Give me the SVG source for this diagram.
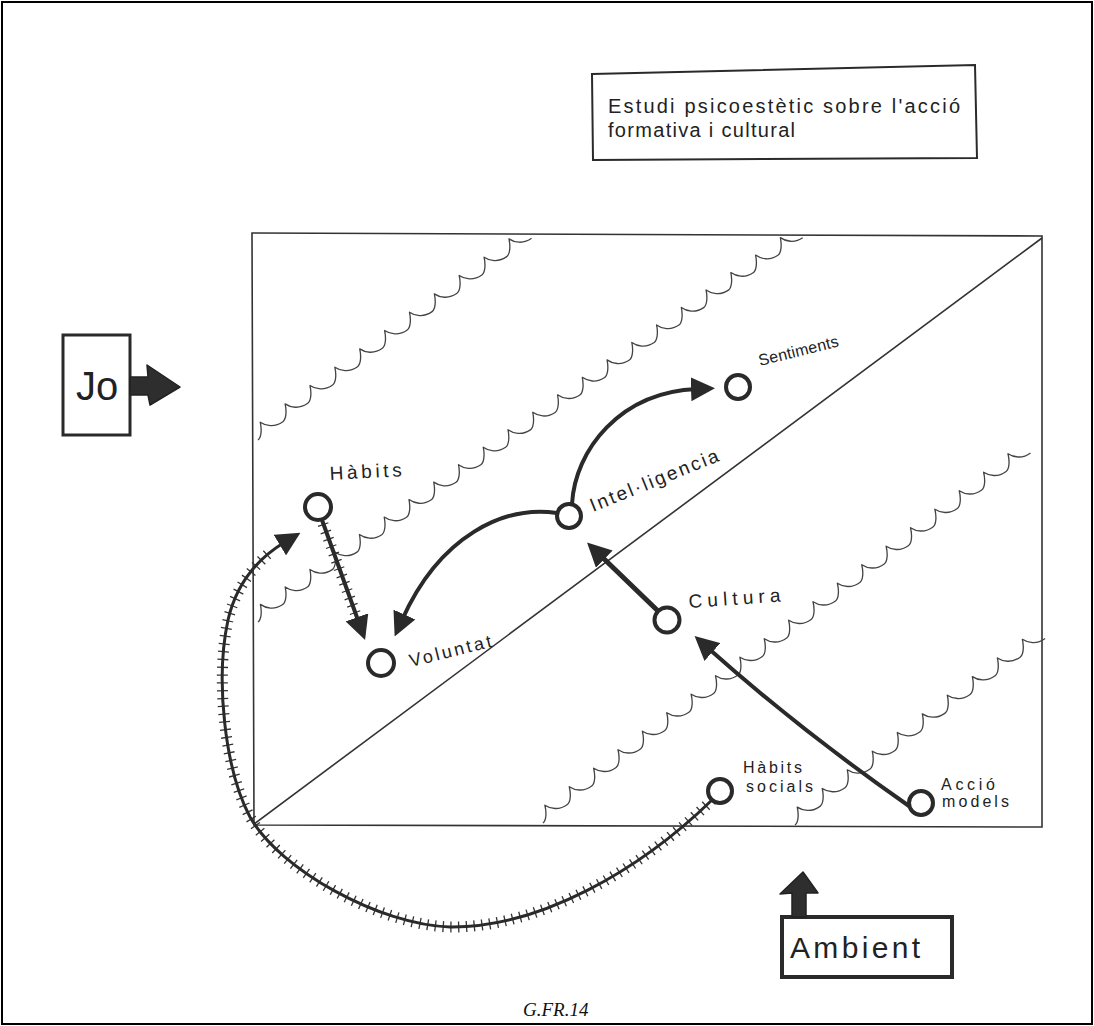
<svg xmlns="http://www.w3.org/2000/svg" width="1094" height="1026" viewBox="0 0 1094 1026">
<style>
.frame{fill:none;stroke:#000;stroke-width:2}
.box{fill:#fff;stroke:#2a2a2a;stroke-width:2}
.thin{fill:none;stroke:#333;stroke-width:1.6}
.wave{fill:none;stroke:#444;stroke-width:1.3;stroke-linejoin:round}
.ring{fill:#fff;stroke:#2a2a2a;stroke-width:4}
.hand{font-family:"Liberation Sans",Arial,sans-serif;fill:#222}
.line{fill:none;stroke:#2a2a2a;stroke-linecap:round}
.ticks{fill:none;stroke:#333;stroke-width:11;stroke-dasharray:1.3 6.5}
.block{fill:#2e2e2e;stroke:#222;stroke-width:1.5;stroke-linejoin:round}
</style>
<defs>
<marker id="ah" viewBox="0 0 24 24" refX="6" refY="12" markerWidth="24" markerHeight="24" markerUnits="userSpaceOnUse" orient="auto">
<path d="M0 0 L24 12 L0 24 Z" fill="#2a2a2a"/>
</marker>
</defs>
<rect width="1094" height="1026" fill="#fff"/>
<rect class="frame" x="2" y="2" width="1090" height="1022"/>

<g id="title">
<path class="box" d="M592 74 L975 65 L977 158 L593 160 Z"/>
<text class="hand" x="608" y="113" font-size="20" textLength="352" lengthAdjust="spacing">Estudi psicoestètic sobre l'acció</text>
<text class="hand" x="608" y="137" font-size="20" textLength="187" lengthAdjust="spacing">formativa i cultural</text>
</g>

<g id="field">
<path class="thin" d="M252 233 L1042 236 L1042 827 L254 825 Z"/>
<path class="thin" d="M254 824 L1042 238"/>
<path class="wave" transform="translate(258 440) rotate(-36.4) scale(1.03 1)" d="M0 0c4 0 9 -6 12 -13c2 6 8 13 18 13c4 0 9 -6 12 -13c2 6 8 13 18 13c4 0 9 -6 12 -13c2 6 8 13 18 13c4 0 9 -6 12 -13c2 6 8 13 18 13c4 0 9 -6 12 -13c2 6 8 13 18 13c4 0 9 -6 12 -13c2 6 8 13 18 13c4 0 9 -6 12 -13c2 6 8 13 18 13c4 0 9 -6 12 -13c2 6 8 13 18 13c4 0 9 -6 12 -13c2 6 8 13 18 13c4 0 9 -6 12 -13c2 6 8 13 18 13c4 0 9 -6 12 -13c2 6 8 13 18 13"/>
<path class="wave" transform="translate(258 622) rotate(-35.2) scale(1.01 1)" d="M0 0c4 0 9 -6 12 -13c2 6 8 13 18 13c4 0 9 -6 12 -13c2 6 8 13 18 13c4 0 9 -6 12 -13c2 6 8 13 18 13c4 0 9 -6 12 -13c2 6 8 13 18 13c4 0 9 -6 12 -13c2 6 8 13 18 13c4 0 9 -6 12 -13c2 6 8 13 18 13c4 0 9 -6 12 -13c2 6 8 13 18 13c4 0 9 -6 12 -13c2 6 8 13 18 13c4 0 9 -6 12 -13c2 6 8 13 18 13c4 0 9 -6 12 -13c2 6 8 13 18 13c4 0 9 -6 12 -13c2 6 8 13 18 13c4 0 9 -6 12 -13c2 6 8 13 18 13c4 0 9 -6 12 -13c2 6 8 13 18 13c4 0 9 -6 12 -13c2 6 8 13 18 13c4 0 9 -6 12 -13c2 6 8 13 18 13c4 0 9 -6 12 -13c2 6 8 13 18 13c4 0 9 -6 12 -13c2 6 8 13 18 13c4 0 9 -6 12 -13c2 6 8 13 18 13c4 0 9 -6 12 -13c2 6 8 13 18 13c4 0 9 -6 12 -13c2 6 8 13 18 13c4 0 9 -6 12 -13c2 6 8 13 18 13c4 0 9 -6 12 -13c2 6 8 13 18 13"/>
<path class="wave" transform="translate(543 823) rotate(-37.2) scale(1.02 1)" d="M0 0c4 0 9 -6 12 -13c2 6 8 13 18 13c4 0 9 -6 12 -13c2 6 8 13 18 13c4 0 9 -6 12 -13c2 6 8 13 18 13c4 0 9 -6 12 -13c2 6 8 13 18 13c4 0 9 -6 12 -13c2 6 8 13 18 13c4 0 9 -6 12 -13c2 6 8 13 18 13c4 0 9 -6 12 -13c2 6 8 13 18 13c4 0 9 -6 12 -13c2 6 8 13 18 13c4 0 9 -6 12 -13c2 6 8 13 18 13c4 0 9 -6 12 -13c2 6 8 13 18 13c4 0 9 -6 12 -13c2 6 8 13 18 13c4 0 9 -6 12 -13c2 6 8 13 18 13c4 0 9 -6 12 -13c2 6 8 13 18 13c4 0 9 -6 12 -13c2 6 8 13 18 13c4 0 9 -6 12 -13c2 6 8 13 18 13c4 0 9 -6 12 -13c2 6 8 13 18 13c4 0 9 -6 12 -13c2 6 8 13 18 13c4 0 9 -6 12 -13c2 6 8 13 18 13c4 0 9 -6 12 -13c2 6 8 13 18 13c4 0 9 -6 12 -13c2 6 8 13 18 13"/>
<path class="wave" transform="translate(795 825) rotate(-36.7) scale(1.04 1)" d="M0 0c4 0 9 -6 12 -13c2 6 8 13 18 13c4 0 9 -6 12 -13c2 6 8 13 18 13c4 0 9 -6 12 -13c2 6 8 13 18 13c4 0 9 -6 12 -13c2 6 8 13 18 13c4 0 9 -6 12 -13c2 6 8 13 18 13c4 0 9 -6 12 -13c2 6 8 13 18 13c4 0 9 -6 12 -13c2 6 8 13 18 13c4 0 9 -6 12 -13c2 6 8 13 18 13c4 0 9 -6 12 -13c2 6 8 13 18 13c4 0 9 -6 12 -13c2 6 8 13 18 13"/>
</g>

<g id="connectors">
<path class="ticks" d="M712 800 C640 870 540 928 450 927 C380 925 280 870 250 817 C225 770 215 680 228 620 C234 594 248 572 268 554"/>
<path class="line" stroke-width="3" marker-end="url(#ah)" d="M712 800 C640 870 540 928 450 927 C380 925 280 870 250 817 C225 770 215 680 228 620 C236 585 255 560 285 542"/>
<path class="ticks" d="M323 524 L357 618"/>
<path class="line" stroke-width="4" marker-end="url(#ah)" d="M322 520 L359 623"/>
<path class="line" stroke-width="4" marker-end="url(#ah)" d="M557 513 C505 505 440 535 402 620"/>
<path class="line" stroke-width="4" marker-end="url(#ah)" d="M572 504 C575 450 620 392 697 389"/>
<path class="line" stroke-width="5" marker-end="url(#ah)" d="M658 611 L600 555"/>
<path class="line" stroke-width="4" marker-end="url(#ah)" d="M909 806 Q800 730 708 648"/>
</g>

<g id="node-habits">
<circle class="ring" cx="318" cy="507" r="13"/>
<text class="hand" x="330" y="480" font-size="19" textLength="72" lengthAdjust="spacing" transform="rotate(-3 330 480)">Hàbits</text>
</g>
<g id="node-voluntat">
<circle class="ring" cx="381" cy="663" r="13"/>
<text class="hand" x="411" y="667" font-size="18" textLength="84" lengthAdjust="spacing" transform="rotate(-14 411 667)">Voluntat</text>
</g>
<g id="node-intelligencia">
<circle class="ring" cx="569" cy="516" r="12"/>
<text class="hand" x="593" y="512" font-size="19" textLength="137" lengthAdjust="spacing" transform="rotate(-22 593 512)">Intel·ligencia</text>
</g>
<g id="node-sentiments">
<circle class="ring" cx="738" cy="387" r="12"/>
<text class="hand" x="760" y="366" font-size="16" textLength="82" lengthAdjust="spacing" transform="rotate(-14 760 366)">Sentiments</text>
</g>
<g id="node-cultura">
<circle class="ring" cx="667" cy="620" r="12.5"/>
<text class="hand" x="689" y="608" font-size="19" textLength="92" lengthAdjust="spacing" transform="rotate(-4 689 608)">Cultura</text>
</g>
<g id="node-habits-socials">
<circle class="ring" cx="720" cy="791" r="12"/>
<text class="hand" x="743" y="773" font-size="16" textLength="59" lengthAdjust="spacing">Hàbits</text>
<text class="hand" x="746" y="792" font-size="16" textLength="67" lengthAdjust="spacing">socials</text>
</g>
<g id="node-accio">
<circle class="ring" cx="921" cy="803" r="12"/>
<text class="hand" x="941" y="790" font-size="16" textLength="54" lengthAdjust="spacing">Acció</text>
<text class="hand" x="942" y="807" font-size="16" textLength="67" lengthAdjust="spacing">models</text>
</g>

<g id="node-jo">
<rect x="63" y="335" width="67" height="100" fill="#fff" stroke="#2a2a2a" stroke-width="3"/>
<text class="hand" x="76" y="400" font-size="40">Jo</text>
<path class="block" d="M130 377 L148 377 L147 365 L180 387 L150 405 L148 395 L130 395 Z"/>
</g>

<g id="node-ambient">
<rect x="782" y="917" width="170" height="60" fill="#fff" stroke="#2a2a2a" stroke-width="4"/>
<text class="hand" x="790" y="958" font-size="30" textLength="130" lengthAdjust="spacing">Ambient</text>
<path class="block" d="M803 872 L818 893 L806 893 L806 917 L792 917 L792 893 L780 894 Z"/>
</g>

<text id="caption" x="523" y="1016" font-family="'Liberation Serif','Times New Roman',serif" font-style="italic" font-size="19" fill="#111">G.FR.14</text>
</svg>
